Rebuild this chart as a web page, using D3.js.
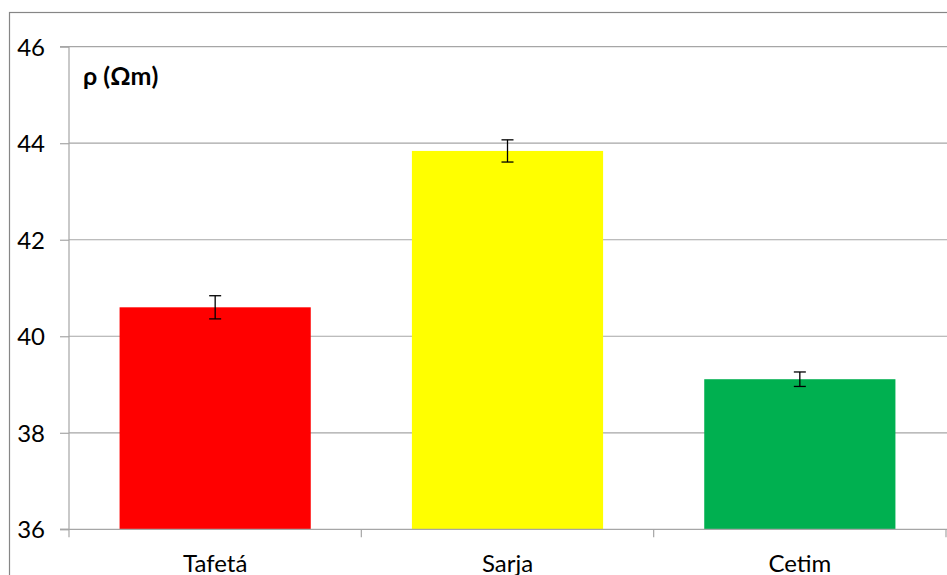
<!DOCTYPE html>
<html>
<head>
<meta charset="utf-8">
<script src="https://cdn.jsdelivr.net/npm/d3@7"></script>
<style>
  html, body { margin: 0; padding: 0; background: #fff; }
  svg { display: block; font-family: Lato, "Open Sans", sans-serif; }
</style>
</head>
<body>
<svg id="chart" width="947" height="575"></svg>
<script>
// Fabric resistivity by weave type
const categories = ["Tafetá", "Sarja", "Cetim"];
const values = [40.6, 43.84, 39.11];
const errors = [0.24, 0.23, 0.15];
const colors = ["#ff0000", "#ffff00", "#00b050"];
const yTicks = [36, 38, 40, 42, 44, 46];
const yLabel = "ρ (Ωm)";

const svg = d3.select("#chart");
const W = 947, H = 575;
const plot = { left: 69, right: 946, top: 46.7, bottom: 529.3 };
const FONT = "Lato, 'Open Sans', sans-serif";

// outer chart frame (extends past the right and bottom edges)
svg.append("rect")
  .attr("x", 9.5).attr("y", 12.5)
  .attr("width", W + 20).attr("height", H + 20)
  .attr("fill", "none").attr("stroke", "#868686").attr("stroke-width", 1.2);

const x = d3.scaleBand().domain(categories).range([plot.left, plot.right]).paddingInner(0.346).paddingOuter(0.173);
const xBand = d3.scaleBand().domain(categories).range([plot.left, plot.right]);
const y = d3.scaleLinear().domain([36, 46]).range([plot.bottom, plot.top]);

// horizontal gridlines
svg.append("g").selectAll("line").data(yTicks.filter(t => t !== 36)).join("line")
  .attr("x1", plot.left).attr("x2", W + 5)
  .attr("y1", d => y(d)).attr("y2", d => y(d))
  .attr("stroke", "#a6a6a6").attr("stroke-width", 1.2);

// bars
svg.append("g").selectAll("rect").data(categories).join("rect")
  .attr("x", d => x(d)).attr("width", x.bandwidth())
  .attr("y", (d, i) => y(values[i]))
  .attr("height", (d, i) => y(36) - y(values[i]))
  .attr("fill", (d, i) => colors[i]);

// error bars
const eb = svg.append("g").attr("stroke", "#000").attr("stroke-width", 1.3);
categories.forEach((c, i) => {
  const cx = x(c) + x.bandwidth() / 2;
  const y1 = y(values[i] + errors[i]), y2 = y(values[i] - errors[i]);
  eb.append("line").attr("x1", cx).attr("x2", cx).attr("y1", y1).attr("y2", y2);
  eb.append("line").attr("x1", cx - 6).attr("x2", cx + 6).attr("y1", y1).attr("y2", y1);
  eb.append("line").attr("x1", cx - 6).attr("x2", cx + 6).attr("y1", y2).attr("y2", y2);
});

// y axis
const yAxis = d3.axisLeft(y).tickValues(yTicks).tickSize(9).tickPadding(15).tickFormat(d3.format("d"));
const gy = svg.append("g").attr("transform", `translate(${plot.left},0)`).call(yAxis);
gy.select(".domain").attr("stroke", "#a6a6a6").attr("stroke-width", 1.2).attr("d", `M-9,${plot.top}H0V${plot.bottom}H-9`);
gy.selectAll(".tick line").attr("stroke", "#a6a6a6").attr("stroke-width", 1.2);
gy.selectAll(".tick text").attr("font-size", 24).attr("fill", "#000")
  .attr("font-family", FONT).attr("dy", "0.36em");

// x axis
const gx = svg.append("g").attr("transform", `translate(0,${plot.bottom})`);
gx.append("line").attr("x1", plot.left - 9).attr("x2", W + 5).attr("y1", 0).attr("y2", 0)
  .attr("stroke", "#a6a6a6").attr("stroke-width", 1.2);
const bounds = categories.map(c => xBand(c)).concat([xBand(categories[categories.length - 1]) + xBand.bandwidth()]);
gx.selectAll("line.tk").data(bounds).join("line").attr("class", "tk")
  .attr("x1", d => d).attr("x2", d => d).attr("y1", 0).attr("y2", 8)
  .attr("stroke", "#a6a6a6").attr("stroke-width", 1.2);
gx.selectAll("text").data(categories).join("text")
  .attr("x", d => x(d) + x.bandwidth() / 2).attr("y", 42.5)
  .attr("text-anchor", "middle").attr("font-size", 24).attr("fill", "#000")
  .attr("font-family", FONT)
  .text(d => d);

// unit label inside plot
svg.append("text").attr("x", 83).attr("y", 85)
  .attr("font-size", 25).attr("font-weight", "bold").attr("fill", "#000")
  .attr("font-family", FONT)
  .text(yLabel);
</script>
</body>
</html>
